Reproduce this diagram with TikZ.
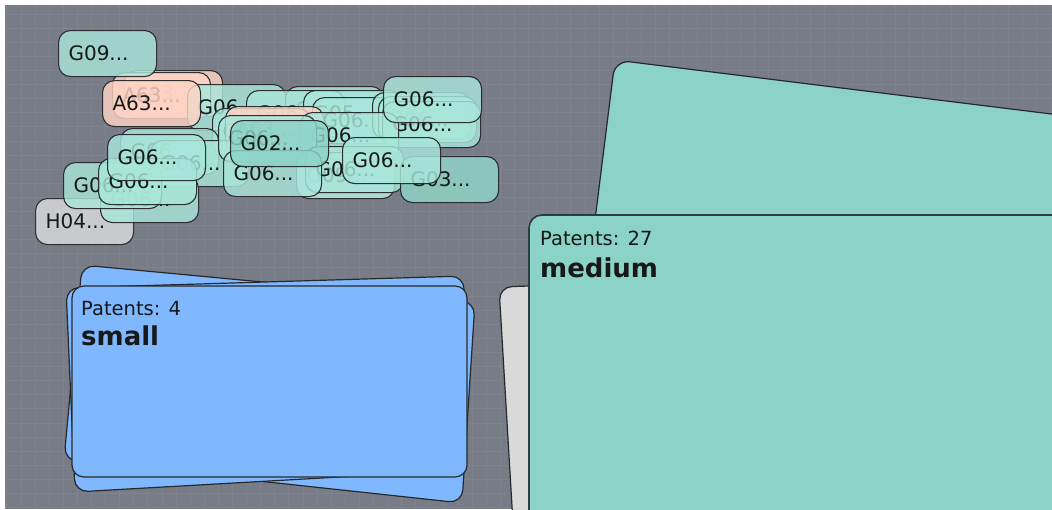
\documentclass[tikz,border=0pt]{standalone}
\usepackage{fontspec}
\newfontfamily\uifont{DejaVu Sans}
\definecolor{canvas}{HTML}{787C86}
\definecolor{gridline}{HTML}{7F838D}
\definecolor{edgedark}{HTML}{262829}
\definecolor{textdark}{HTML}{161819}
\definecolor{mediumteal}{HTML}{8CD3C7}
\definecolor{smallblue}{HTML}{80B8FF}
\definecolor{cardgray}{HTML}{D9D9D9}
\definecolor{pillteal}{HTML}{A9E6DB}
\definecolor{pilllight}{HTML}{BDEBE3}
\definecolor{pillgtwo}{HTML}{8CD3C7}
\definecolor{pillgthree}{HTML}{91D6C9}
\definecolor{pillsalmon}{HTML}{FFD4C6}
\definecolor{pillgray}{HTML}{DCDCDE}
\begin{document}
\begin{tikzpicture}[x=1pt,y=-1pt,
  pill/.style={draw=edgedark, line width=1.1pt, rounded corners=12pt,
    anchor=north west, text width=78pt, align=left,
    inner xsep=10pt, inner ysep=0pt, minimum height=46pt,
    fill=pillteal, fill opacity=0.82, draw opacity=0.95, text opacity=1,
    text=textdark, font=\uifont\fontsize{20}{22}\selectfont},
  card/.style={draw=edgedark, line width=1.2pt, rounded corners=13pt},
  count/.style={anchor=base west, text=textdark, inner sep=0pt,
    font=\uifont\fontsize{19.5}{22}\selectfont},
  title/.style={anchor=base west, text=textdark, inner sep=0pt,
    font=\uifont\bfseries\fontsize{26}{28}\selectfont}]

% page and canvas
\useasboundingbox (0,0) rectangle (1052,509);
\fill[white] (0,0) rectangle (1052,509);
\fill[canvas] (5,5) rectangle (1052,509);

% background grid
\foreach \i in {0,...,74}
  \draw[gridline, line width=0.7pt] (6.8+14.1*\i,5) -- (6.8+14.1*\i,509);
\foreach \j in {0,...,35}
  \draw[gridline, line width=0.7pt] (5,14+14.1*\j) -- (1052,14+14.1*\j);

\begin{scope}
\clip (5,5) rectangle (1052,509);

% medium group: card in the back, gray card, front card
\draw[card, fill=mediumteal, rounded corners=15pt]
  (615,60) -- (1100,120) -- (1100,420) -- (570,420) -- cycle;
\draw[card, fill=cardgray]
  (499,287) -- (620,283) -- (620,540) -- (514,540) -- cycle;
\draw[draw=black!70!mediumteal, line width=1.6pt, fill=mediumteal, rounded corners=13pt]
  (529,215) rectangle (1090,540);
\node[count] (mcount) at (540,245) {Patents: 27};
\node[title] (mtitle) at (540,277) {medium};

% small group: two tilted cards under the front card
\draw[card, fill=smallblue]
  (82,265) -- (475,302) -- (462,503) -- (64,460) -- cycle;
\draw[card, fill=smallblue]
  (66,288) -- (464,276) -- (463,470) -- (75,492) -- cycle;
\draw[card, fill=smallblue, rounded corners=12pt]
  (72,286) rectangle (467,477);
\node[count] (scount) at (81,315) {Patents: 4};
\node[title] (stitle) at (81,345) {small};
\end{scope}

% loose pills
\node[pill, fill=pillgray] (h04) at (35,198) {H04...};

% clustered pills, back to front
\node[pill, fill=pillsalmon] (c1) at (124,70) {A63...};
\node[pill, fill=pillsalmon] (c2) at (112,72) {A63...};
\node[pill] (c3) at (187,84) {G06...};
\node[pill] (c4) at (285,86) {G06...};
\node[pill] (c5) at (246,90) {G06...};
\node[pill] (c6) at (303,90) {G05...};
\node[pill] (c6b) at (312,97) {G06...};
\node[pill] (c7) at (372,92) {G06...};
\node[pill] (c9) at (378,96) {G06...};
\node[pill] (c8) at (382,101) {G06...};
\node[pill] (c10) at (212,108) {G06...};
\node[pill, fill=pillsalmon] (c11) at (225,106) {A63...};
\node[pill] (c16) at (300,112) {G06...};
\node[pill] (c12) at (120,128) {G06...};
\node[pill] (c13) at (150,140) {G06...};
\node[pill] (c17) at (218,115) {G06...};
\node[pill, fill=pilllight] (c14) at (296,152) {G09...};
\node[pill] (c14b) at (305,146) {G06...};
\node[pill] (c15) at (223,150) {G06...};
\node[pill, fill=pillgthree] (c19) at (400,156) {G03...};
\node[pill] (c18) at (342,137) {G06...};
\node[pill] (c20) at (100,176) {G06...};
\node[pill] (c21) at (63,162) {G06...};
\node[pill] (c22) at (98,158) {G06...};
\node[pill] (c23) at (107,134) {G06...};
\node[pill, fill=pillgtwo] (c24) at (230,120) {G02...};
\node[pill] (c25) at (383,76) {G06...};
\node[pill, fill=pillsalmon] (c26) at (102,80) {A63...};
\node[pill] (g09) at (58,30) {G09...};

\end{tikzpicture}
\end{document}
